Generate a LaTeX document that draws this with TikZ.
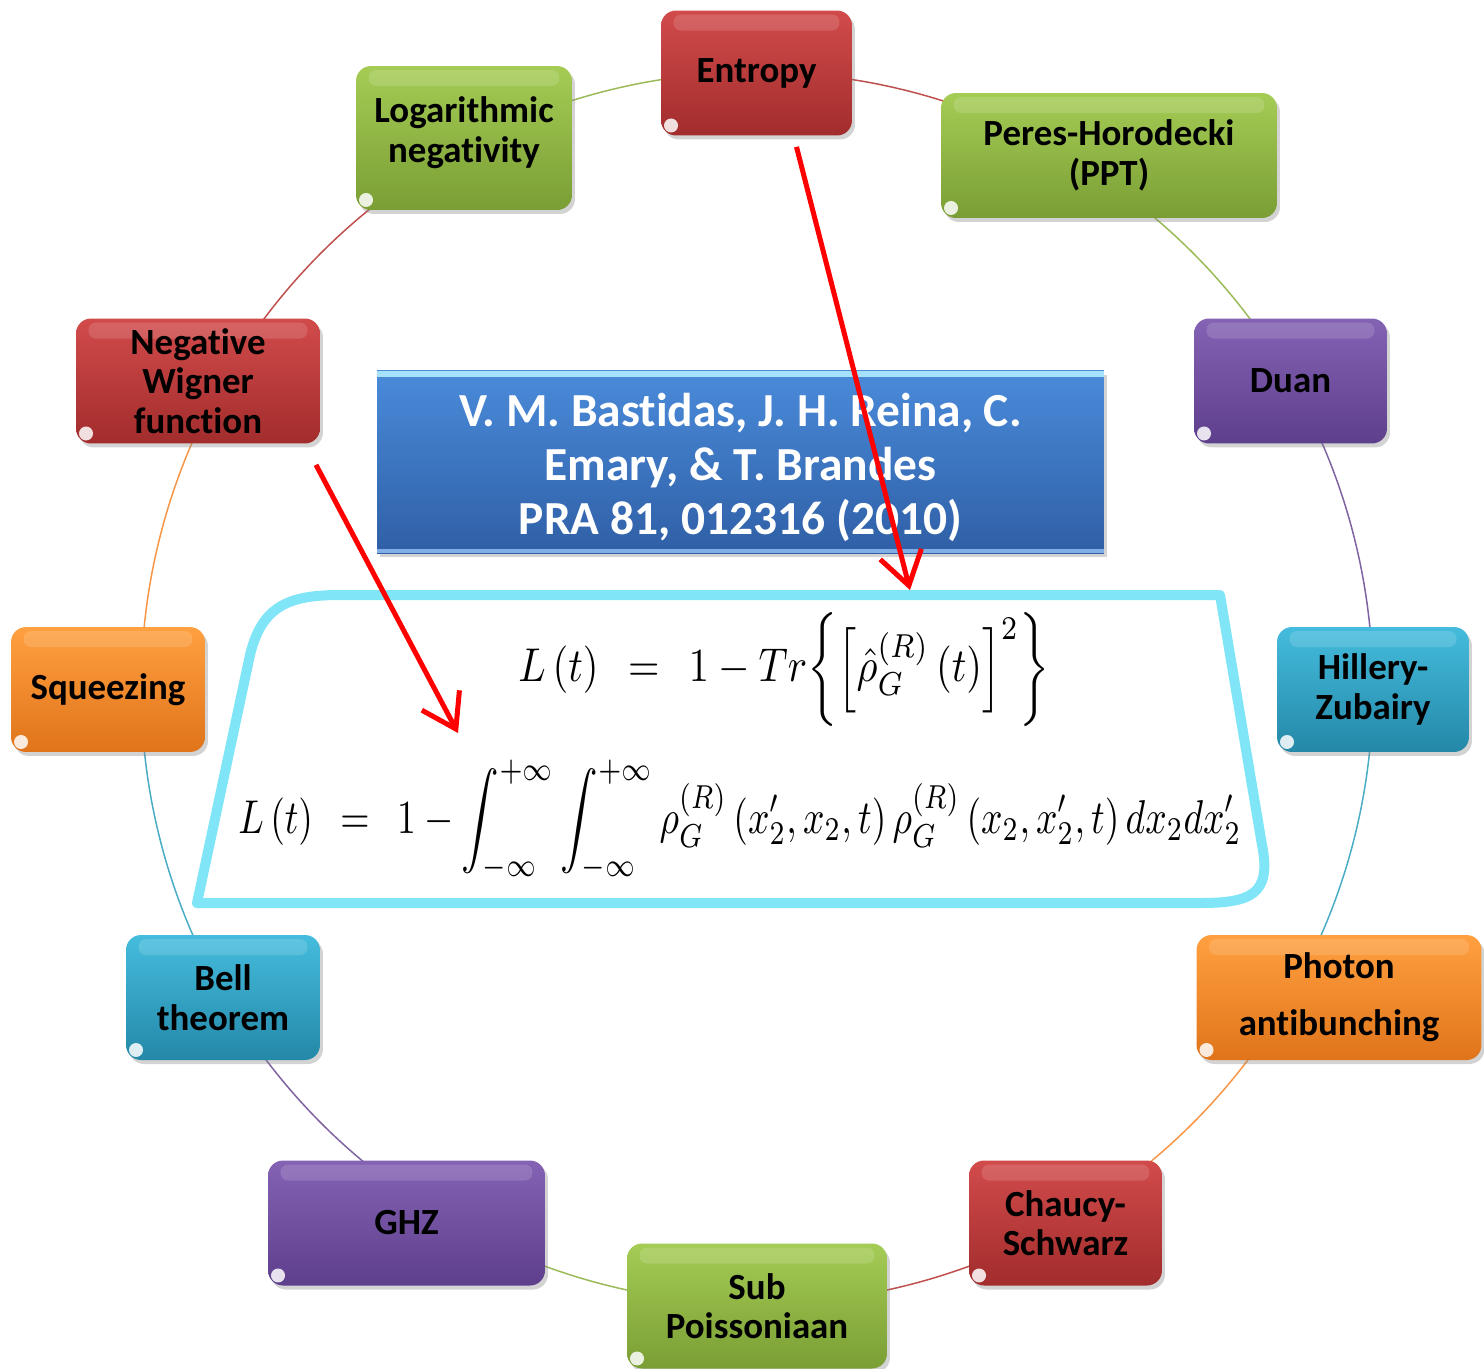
\documentclass[tikz,border=0pt]{standalone}
\usepackage{fontspec}
\setmainfont[Ligatures=NoCommon]{Carlito}
\usetikzlibrary{arrows.meta,shadows}

\definecolor{redtop}{HTML}{D24B4B}
\definecolor{redbot}{HTML}{A22C2C}
\definecolor{greentop}{HTML}{A5CC55}
\definecolor{greenbot}{HTML}{7A9E34}
\definecolor{purpletop}{HTML}{8462B4}
\definecolor{purplebot}{HTML}{5E3F8C}
\definecolor{orangetop}{HTML}{FFA040}
\definecolor{orangebot}{HTML}{E0741A}
\definecolor{tealtop}{HTML}{45BCDD}
\definecolor{tealbot}{HTML}{2488A8}
\definecolor{titletop}{HTML}{4A8BDA}
\definecolor{titlebot}{HTML}{2F5FA6}
\definecolor{framecol}{HTML}{80E6F7}
\definecolor{redline}{HTML}{C0504D}
\definecolor{greenline}{HTML}{9BBB59}
\definecolor{purpleline}{HTML}{8064A2}
\definecolor{orangeline}{HTML}{F79646}
\definecolor{tealline}{HTML}{4BACC6}

\tikzset{
  topic/.style={rounded corners=0.3cm, align=center, inner sep=0pt, minimum height=2.5cm,
    font=\fontsize{21}{22.5}\selectfont\bfseries, text=black,
    drop shadow={opacity=0.35, shadow xshift=0.06cm, shadow yshift=-0.08cm},
    path picture={
      \fill[white, opacity=0.14, rounded corners=0.15cm]
        ([xshift=0.25cm,yshift=-0.08cm]path picture bounding box.north west) rectangle
        ([xshift=-0.25cm,yshift=-0.4cm]path picture bounding box.north east);
      \fill[white, opacity=0.85] ([xshift=0.2cm,yshift=0.2cm]path picture bounding box.south west) circle (0.14cm);
    }},
  redtopic/.style={topic, top color=redtop, bottom color=redbot},
  greentopic/.style={topic, top color=greentop, bottom color=greenbot},
  purpletopic/.style={topic, top color=purpletop, bottom color=purplebot},
  orangetopic/.style={topic, top color=orangetop, bottom color=orangebot},
  tealtopic/.style={topic, top color=tealtop, bottom color=tealbot},
  titlebox/.style={minimum width=14.54cm, minimum height=3.66cm, inner sep=0pt, align=center,
    top color=titletop, bottom color=titlebot, text=white,
    font=\fontsize{27}{30.6}\selectfont\bfseries,
    drop shadow={opacity=0.35, shadow xshift=0.06cm, shadow yshift=-0.08cm},
    path picture={
      \fill[cyan!35!white] (path picture bounding box.north west) rectangle
        ([yshift=-0.12cm]path picture bounding box.north east);
      \fill[titletop!70!white] (path picture bounding box.south west) rectangle
        ([yshift=0.08cm]path picture bounding box.south east);
    }},
  ring/.style={line width=0.03cm},
  eqframe/.style={framecol, line width=0.2cm, line join=round},
  pointer/.style={red, line width=0.1cm, -{Straight Barb[length=0.65cm,width=0.85cm]}},
}

\begin{document}
\begin{tikzpicture}[x=0.02cm,y=-0.02cm]
	%%%%% START %%%%%
	\useasboundingbox (0,0) rectangle (1484,1369);

	\coordinate (ring) at (757,688);
	\foreach \from/\to/\col in {90/56.5/redline, 56.5/30/greenline, 30/0/purpleline,
	    0/-28/tealline, -28/-60/orangeline, -60/-90/redline, -90/-123/greenline,
	    -123/-150/purpleline, -150/-180/tealline, 180/151/orangeline,
	    151/118/redline, 118/90/greenline}
	  \draw[ring, \col] (ring) ++(\from:12.32cm) arc[start angle=\from, end angle=\to, radius=12.32cm];

	\node[redtopic, minimum width=3.82cm] (entropy) at (756.5,73) {Entropy};
	\node[greentopic, minimum width=4.32cm, minimum height=2.88cm] (logneg) at (464,138) {Logarithmic\\negativity\\[-0.45cm]\mbox{}};
	\node[greentopic, minimum width=6.72cm] (ppt) at (1109,155.5) {Peres-Horodecki\\(PPT)};
	\node[redtopic, minimum width=4.88cm] (wigner) at (198,381) {Negative\\Wigner\\function};
	\node[purpletopic, minimum width=3.86cm] (duan) at (1290.5,381) {Duan};
	\node[orangetopic, minimum width=3.88cm] (squeezing) at (108,689.5) {Squeezing};
	\node[tealtopic, minimum width=3.84cm] (hillery) at (1373,689.5) {Hillery-\\Zubairy};
	\node[tealtopic, minimum width=3.88cm] (bell) at (223,997.5) {Bell\\theorem};
	\node[orangetopic, minimum width=5.7cm] (antibunch) at (1339,997.5) {Photon\\[0.35cm]antibunching};
	\node[purpletopic, minimum width=5.54cm] (ghz) at (406.5,1223) {GHZ};
	\node[redtopic, minimum width=3.86cm] (cauchy) at (1065.5,1223) {Chaucy-\\Schwarz};
	\node[greentopic, minimum width=5.2cm] (subpois) at (757,1306) {Sub\\Poissoniaan};

	\node[titlebox] (title) at (740.5,462) {\\[-0.2cm]V. M. Bastidas, J. H. Reina, C.\\Emary, \& T. Brandes\\PRA 81, 012316 (2010)};

	% formula frame
	\draw[eqframe] (197,903) -- (250,655) .. controls (262,605) and (290,595) .. (340,595)
	  -- (1220,595) -- (1262,845) .. controls (1272,895) and (1250,903) .. (1200,903) -- cycle;

	\node[xscale=2.3, yscale=2.7] (eqtrace) at (784,670)
	  {$L\left(t\right)\ \ =\ \ 1-Tr\biggl\{\Bigl[\hat{\rho}_G^{(R)}\left(t\right)\Bigr]^2\biggr\}$};
	\node[xscale=2.14, yscale=2.7] (eqoverlap) at (740,820)
	  {$\displaystyle L\left(t\right)\ \ =\ \ 1-\int_{-\infty}^{+\infty}\int_{-\infty}^{+\infty}\rho_G^{(R)}\left(x_2',x_2,t\right)\rho_G^{(R)}\left(x_2,x_2',t\right)dx_2dx_2'$};

	\coordinate (entropytail) at ([xshift=0.8cm,yshift=-0.22cm]entropy.south);
	\coordinate (entropytip) at (910,590);
	\coordinate (wignertail) at ([xshift=2.36cm,yshift=-0.42cm]wigner.south);
	\coordinate (wignertip) at (458,733);
	\draw[pointer] (entropytail) -- (entropytip);
	\draw[pointer] (wignertail) -- (wignertip);

	%%%%% END %%%%%
\end{tikzpicture}
\end{document}
